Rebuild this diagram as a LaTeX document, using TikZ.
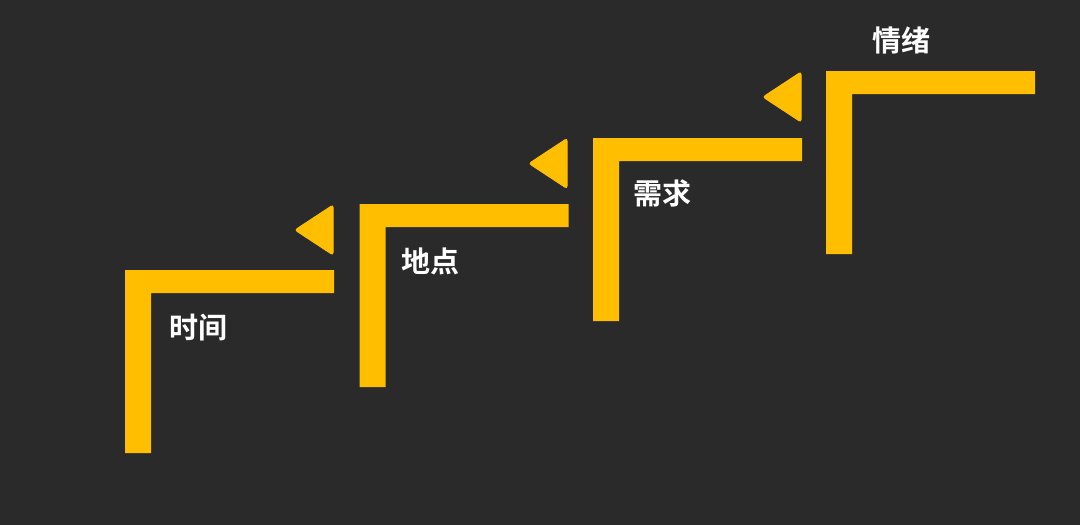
\documentclass[tikz,border=0pt]{standalone}
\usepackage{fontspec}
\newfontfamily\cjk{Noto Sans CJK SC}[BoldFont={Noto Sans CJK SC Bold}]
\definecolor{bg}{HTML}{2A2A2A}
\definecolor{gold}{HTML}{FFBF00}
\tikzset{
  lbar/.style={fill=gold, draw=none},
  tri/.style={fill=gold, draw=gold, line width=1pt, rounded corners=2.5pt},
  lbl/.style={text=white, font=\cjk\bfseries\fontsize{29}{32}\selectfont, anchor=west, inner sep=0pt}
}
\newcommand\lstep[1]{%
  \fill[lbar] (#1) ++(0,0) -- ++(209,0) -- ++(0,23) -- ++(-183,0) -- ++(0,160) -- ++(-26,0) -- cycle;}
\newcommand\ltri[1]{%
  \filldraw[tri] (#1) ++(-1,0) -- ++(0,50) -- ++(-38,-25) -- cycle;}
\begin{document}
\begin{tikzpicture}[x=1pt,y=-1pt]
\fill[bg] (0,0) rectangle (1080,525);
\useasboundingbox (0,0) rectangle (1080,525);
\coordinate (s1) at (125,270);
\coordinate (s2) at (359.5,204);
\coordinate (s3) at (593,138);
\coordinate (s4) at (826,71);
\coordinate (r1) at (334,205);
\coordinate (r2) at (568,138.5);
\coordinate (r3) at (802,72);
\lstep{s1}\lstep{s2}\lstep{s3}\lstep{s4}
\ltri{r1}\ltri{r2}\ltri{r3}
\node[lbl] (t1) at (169,328) {时间};
\node[lbl] (t2) at (401,261) {地点};
\node[lbl] (t3) at (633,193) {需求};
\node[lbl] (t4) at (872,40) {情绪};
\end{tikzpicture}
\end{document}
